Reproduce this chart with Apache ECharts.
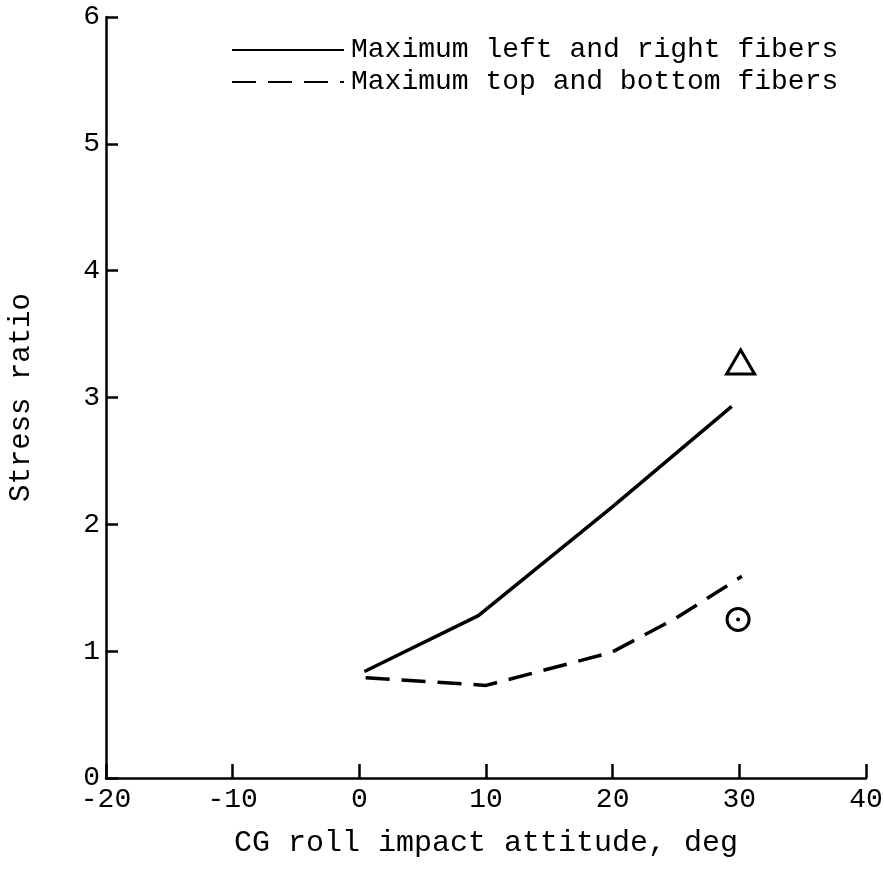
<!DOCTYPE html>
<html>
<head>
<meta charset="utf-8">
<script src="https://cdn.jsdelivr.net/npm/echarts@6/dist/echarts.min.js"></script>
<style>
    html, body { margin: 0; padding: 0; background: #fff; }
    #main { width: 884px; height: 876px; }
</style>
</head>
<body>
<div id="main"></div>
<script>
// data
var leftRightFibers = [[0.4, 0.84], [9.4, 1.28], [20, 2.14], [29.4, 2.93]];
var topBottomFibers = [[0.5, 0.79], [10, 0.73], [19.9, 0.99], [25, 1.26], [30.2, 1.59]];
var triangleMark = [[30.1, 3.28]];
var circleMark = [[29.9, 1.25]];
var xTicks = [-20, -10, 0, 10, 20, 30, 40];
var yTicks = [0, 1, 2, 3, 4, 5, 6];

var font = 'Liberation Mono';
var chart = echarts.init(document.getElementById('main'));

var option = {
    animation: false,
    backgroundColor: '#fff',
    grid: {
        left: 106,
        right: 18,
        top: 17,
        bottom: 98,
        outerBoundsMode: 'none'
    },
    legend: {
        data: ['Maximum left and right fibers', 'Maximum top and bottom fibers'],
        orient: 'vertical',
        left: 226,
        top: 31,
        itemWidth: 112,
        itemHeight: 14,
        itemGap: 4,
        itemStyle: { opacity: 0 },
        textStyle: {
            fontFamily: font,
            fontSize: 28,
            color: '#000',
            padding: [0, 0, 0, 2]
        }
    },
    xAxis: {
        type: 'value',
        min: xTicks[0],
        max: xTicks[xTicks.length - 1],
        interval: 10,
        name: 'CG roll impact attitude, deg',
        nameLocation: 'middle',
        nameGap: 50,
        nameTextStyle: { fontFamily: font, fontSize: 30, color: '#000' },
        axisLine: { onZero: false, lineStyle: { color: '#000', width: 2.5 } },
        axisTick: { inside: true, length: 14, lineStyle: { color: '#000', width: 2.5 } },
        axisLabel: { margin: 8, fontFamily: font, fontSize: 28, color: '#000' },
        splitLine: { show: false }
    },
    yAxis: {
        type: 'value',
        min: yTicks[0],
        max: yTicks[yTicks.length - 1],
        interval: 1,
        name: 'Stress ratio',
        nameLocation: 'middle',
        nameGap: 70,
        nameTextStyle: { fontFamily: font, fontSize: 29, color: '#000' },
        axisLine: { show: true, onZero: false, lineStyle: { color: '#000', width: 2.5 } },
        axisTick: { show: true, inside: true, length: 12, lineStyle: { color: '#000', width: 2.5 } },
        axisLabel: { margin: 6, fontFamily: font, fontSize: 28, color: '#000' },
        splitLine: { show: false }
    },
    series: [
        {
            name: 'Maximum left and right fibers',
            type: 'line',
            symbol: 'none',
            data: leftRightFibers,
            lineStyle: { color: '#000', width: 3.5 },
            itemStyle: { color: '#000' }
        },
        {
            name: 'Maximum top and bottom fibers',
            type: 'line',
            symbol: 'none',
            data: topBottomFibers,
            lineStyle: { color: '#000', width: 3.5, type: [24, 12] },
            itemStyle: { color: '#000' }
        },
        {
            name: 'triangle',
            type: 'scatter',
            symbol: 'triangle',
            symbolSize: [28, 24],
            data: triangleMark,
            itemStyle: { color: '#fff', borderColor: '#000', borderWidth: 3, opacity: 1 }
        },
        {
            name: 'circle',
            type: 'scatter',
            symbol: 'circle',
            symbolSize: 22,
            data: circleMark,
            itemStyle: { color: '#fff', borderColor: '#000', borderWidth: 3, opacity: 1 }
        },
        {
            name: 'circle dot',
            type: 'scatter',
            symbol: 'circle',
            symbolSize: 4,
            data: circleMark,
            itemStyle: { color: '#000', opacity: 1 }
        }
    ]
};
chart.setOption(option);
</script>
</body>
</html>
